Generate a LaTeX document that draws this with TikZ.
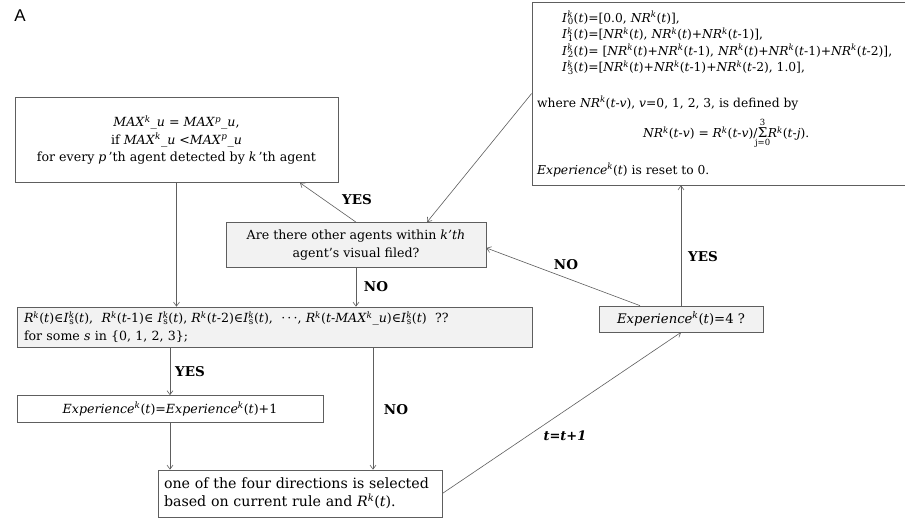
\documentclass[tikz,border=0pt]{standalone}
\usepackage{fontspec}
\setmainfont{DejaVu Serif}
\newfontfamily\labelfont{Liberation Sans}
\usetikzlibrary{arrows.meta}
\definecolor{linegray}{HTML}{5E5E5E}
\definecolor{boxfill}{HTML}{F2F2F2}
\newcommand{\sk}{\textsuperscript{\textit{k}}}
\newcommand{\NRk}{\textit{NR}\sk}
\newcommand{\Rk}{\textit{R}\sk}
\newcommand{\Ik}[1]{\textit{I}\textsuperscript{\rlap{\textit{k}}}\textsubscript{#1}}
\newcommand{\Exk}{\textit{Experience}\sk}
\newcommand{\Tt}{(\textit{t})}
\newcommand{\MAXk}[1]{\textit{MAX}\textsuperscript{\textit{#1}}\_\textit{u}}
\tikzset{
  box/.style={draw=linegray, line width=0.7pt, inner sep=0pt, fill=white,
    font=\fontsize{12.6}{17.5}\selectfont},
  gbox/.style={box, fill=boxfill},
  txt/.style={inner sep=0pt, font=\fontsize{12.3}{16}\selectfont},
  arr/.style={draw=linegray, line width=0.6pt, -{Straight Barb[length=4pt,width=6pt]}},
  lab/.style={inner sep=0pt, font=\fontsize{13.5}{14}\selectfont\bfseries},
}
\begin{document}
\begin{tikzpicture}[x=1pt,y=-1pt]
\clip (0,0) rectangle (905,518);
\fill[white] (0,0) rectangle (905,518);
\node[inner sep=0pt, font=\labelfont\fontsize{17}{17}\selectfont] (A) at (20,16) {A};

% boxes
\node[box, minimum width=378pt, minimum height=183pt] (TR) at (721,93.5) {};
\node[box, minimum width=323pt, minimum height=85pt, align=center] (MAX) at (176.5,140) {%
  \MAXk{k} = \MAXk{p},\\
  if \MAXk{k} {<}\MAXk{p}\\
  for every \textit{p}\,’th agent detected by \textit{k}\,’th agent};
\node[gbox, minimum width=260pt, minimum height=45pt, align=center] (Q) at (356,245) {%
  Are there other agents within \textit{k’th}\\ agent’s visual filed?};
\node[gbox, minimum width=515pt, minimum height=40pt, text width=501pt, align=left] (R) at (274.5,327) {%
  \Rk\Tt{}∈\Ik{s}\Tt,\ \ \Rk(\textit{t}-1)∈\ \Ik{s}\Tt,\ \Rk(\textit{t}-2)∈\Ik{s}\Tt,\ \ ·\,·\,·,\ \Rk(\textit{t}-\MAXk{k})∈\Ik{s}\Tt\ \ ??\\
  for some \textit{s} in \{0, 1, 2, 3\};};
\node[box, minimum width=306pt, minimum height=27pt] (Exp) at (170,409) {%
  \Exk\Tt=\Exk\Tt+1};
\node[box, minimum width=284pt, minimum height=47pt, text width=272pt, align=left,
  font=\fontsize{14.2}{18}\selectfont] (Bot) at (300,493.5) {%
  one of the four directions is selected\\ based on current rule and \Rk\Tt.};
\node[gbox, minimum width=164pt, minimum height=26pt, font=\fontsize{13.2}{16}\selectfont] (Exp4) at (681,319) {%
  \Exk\Tt=4 ?};

% text of the top-right box
\node[txt, anchor=west] (l0) at (562,18) {\Ik{0}\Tt=[0.0, \NRk\Tt],};
\node[txt, anchor=west] (l1) at (562,34.5) {\Ik{1}\Tt=[\NRk\Tt,\ \NRk\Tt+\NRk(\textit{t}-1)],};
\node[txt, anchor=west] (l2) at (562,51) {\Ik{2}\Tt= [\NRk\Tt+\NRk(\textit{t}-1),\ \NRk\Tt+\NRk(\textit{t}-1)+\NRk(\textit{t}-2)],};
\node[txt, anchor=west] (l3) at (562,67.5) {\Ik{3}\Tt=[\NRk\Tt+\NRk(\textit{t}-1)+\NRk(\textit{t}-2),\ 1.0],};
\node[txt, anchor=west] (wh) at (537,103) {where \NRk(\textit{t}-\textit{v}),\ \textit{v}=0, 1, 2, 3, is defined by};
\node[txt, anchor=west] (f1) at (643,133) {\NRk(\textit{t}-\textit{v}) = \Rk(\textit{t}-\textit{v})/};
\node[txt, anchor=base west, font=\fontsize{13.5}{16}\selectfont] (sig) at (f1.base east) {Σ};
\node[txt, anchor=base west] (f2) at (sig.base east) {\Rk(\textit{t}-\textit{j}).};
\node[inner sep=0pt, font=\fontsize{8.5}{8.5}\selectfont, anchor=south] (s3) at ([yshift=1.5pt]sig.north) {3};
\node[inner sep=0pt, font=\fontsize{8.5}{8.5}\selectfont, anchor=north] (sj) at ([yshift=-1pt]sig.south) {j=0};
\node[txt, anchor=west] (rs) at (537,170) {\Exk\Tt{} is reset to 0.};

% connectors
\draw[arr] (MAX.south) -- (MAX.south |- R.north);
\draw[arr] (Q.north) -- (300,0 |- MAX.south);
\draw[arr] (TR.west) -- (427,0 |- Q.north);
\draw[arr] (640,0 |- Exp4.north) -- ([yshift=-3pt]Q.east);
\draw[arr] (Exp4.north) -- (Exp4.north |- TR.south);
\draw[arr] (Q.south) -- (Q.south |- R.north);
\draw[arr] (Exp.north |- R.south) -- (Exp.north);
\draw[arr] (373,0 |- R.south) -- (373,0 |- Bot.north);
\draw[arr] (Exp.south) -- (Exp.south |- Bot.north);
\draw[arr] (Bot.east) -- (Exp4.south);

% labels
\node[lab] (yes1) at (357,200) {YES};
\node[lab] (no1) at (376,287) {NO};
\node[lab] (no2) at (566,265) {NO};
\node[lab] (yes2) at (703,257) {YES};
\node[lab] (yes3) at (190,372) {YES};
\node[lab] (no3) at (396,410) {NO};
\node[inner sep=0pt, font=\fontsize{13}{13}\selectfont\bfseries\itshape] (tt) at (565,436) {t=t+1};
\end{tikzpicture}
\end{document}
